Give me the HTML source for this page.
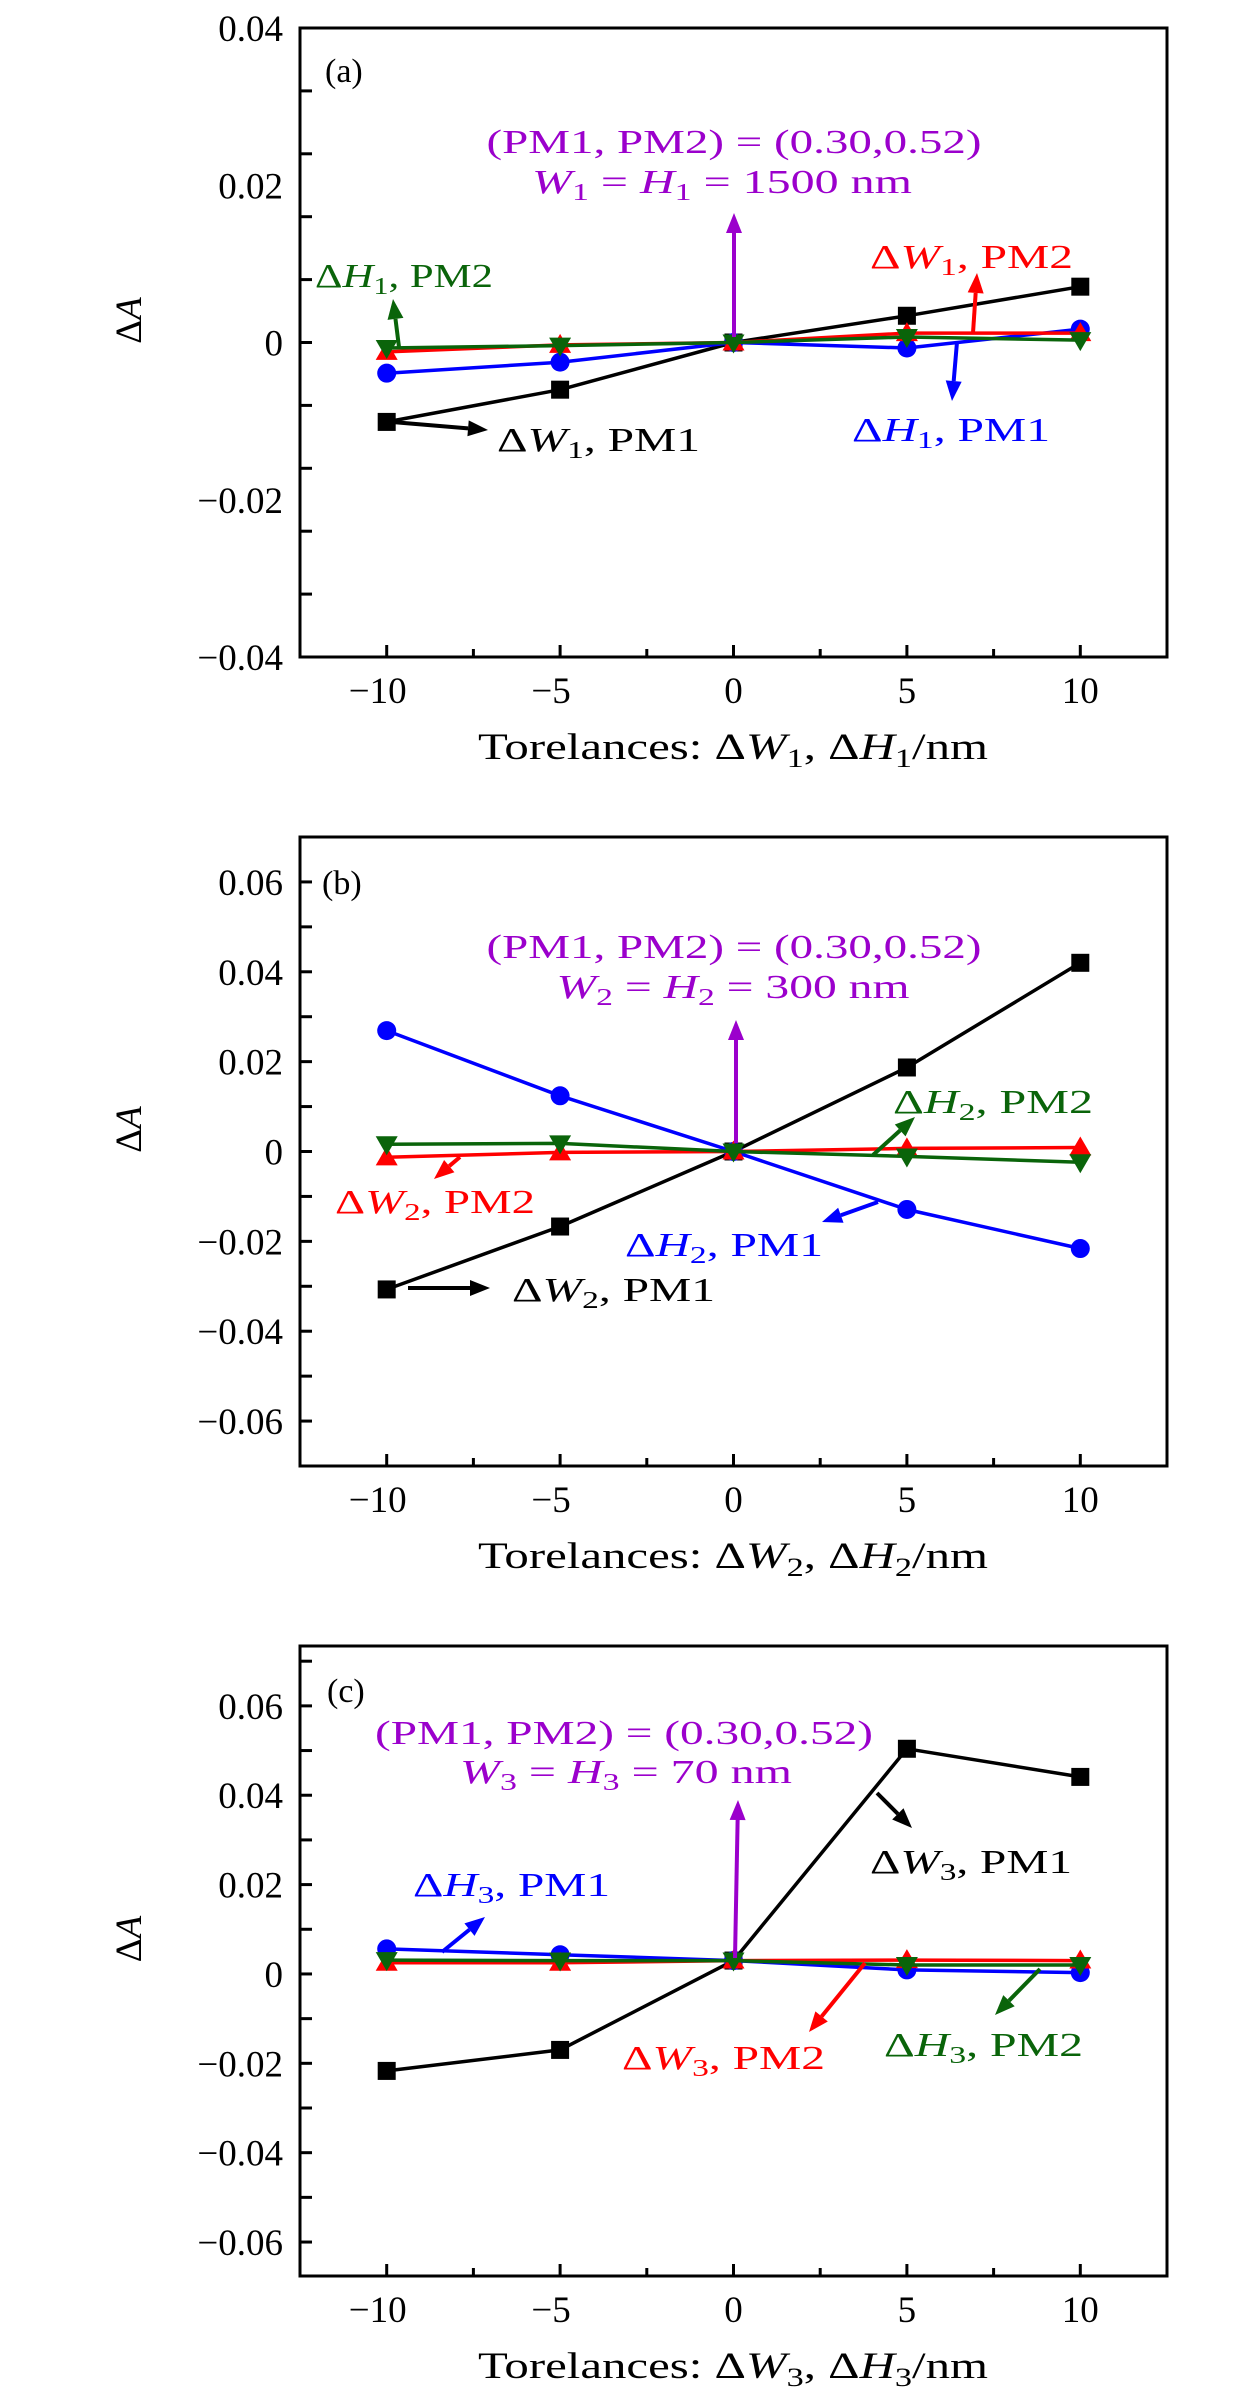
<!DOCTYPE html>
<html>
<head>
<meta charset="utf-8">
<style>
  html,body{margin:0;padding:0;background:#fff;}
  svg{display:block;}
  text{font-family:"Liberation Serif", serif;}
</style>
</head>
<body>
<svg id="fig" xmlns="http://www.w3.org/2000/svg" width="1260" height="2394" viewBox="0 0 1260 2394">
  <rect x="0" y="0" width="1260" height="2394" fill="#fff"/>
  <g id="layer-axes"></g>
  <g id="layer-series"></g>
  <g id="layer-annot">
    <!-- Panel (a) annotations -->
    <text x="325" y="82" font-size="34">(a)</text>
    <text x="734" y="153" font-size="34" text-anchor="middle" fill="#9b00cc" textLength="495" lengthAdjust="spacingAndGlyphs">(PM1, PM2) = (0.30,0.52)</text>
    <text x="722" y="193" font-size="34" text-anchor="middle" fill="#9b00cc" textLength="380" lengthAdjust="spacingAndGlyphs"><tspan font-style="italic">W</tspan><tspan font-size="24" dy="7">1</tspan><tspan dy="-7"> = </tspan><tspan font-style="italic">H</tspan><tspan font-size="24" dy="7">1</tspan><tspan dy="-7"> = 1500 nm</tspan></text>
    <text x="315" y="287" font-size="34" fill="#0a640a" textLength="178" lengthAdjust="spacingAndGlyphs">Δ<tspan font-style="italic">H</tspan><tspan font-size="24" dy="7">1</tspan><tspan dy="-7">, PM2</tspan></text>
    <text x="497" y="451" font-size="34" fill="#000" textLength="203" lengthAdjust="spacingAndGlyphs">Δ<tspan font-style="italic">W</tspan><tspan font-size="24" dy="7">1</tspan><tspan dy="-7">, PM1</tspan></text>
    <text x="870" y="268" font-size="34" fill="#ff0000" textLength="203" lengthAdjust="spacingAndGlyphs">Δ<tspan font-style="italic">W</tspan><tspan font-size="24" dy="7">1</tspan><tspan dy="-7">, PM2</tspan></text>
    <text x="852" y="441" font-size="34" fill="#0000ff" textLength="198" lengthAdjust="spacingAndGlyphs">Δ<tspan font-style="italic">H</tspan><tspan font-size="24" dy="7">1</tspan><tspan dy="-7">, PM1</tspan></text>

    <!-- Panel (b) annotations -->
    <text x="322" y="894" font-size="34">(b)</text>
    <text x="734" y="958" font-size="34" text-anchor="middle" fill="#9b00cc" textLength="495" lengthAdjust="spacingAndGlyphs">(PM1, PM2) = (0.30,0.52)</text>
    <text x="733" y="998" font-size="34" text-anchor="middle" fill="#9b00cc" textLength="353" lengthAdjust="spacingAndGlyphs"><tspan font-style="italic">W</tspan><tspan font-size="24" dy="7">2</tspan><tspan dy="-7"> = </tspan><tspan font-style="italic">H</tspan><tspan font-size="24" dy="7">2</tspan><tspan dy="-7"> = 300 nm</tspan></text>
    <text x="335" y="1213" font-size="34" fill="#ff0000" textLength="200" lengthAdjust="spacingAndGlyphs">Δ<tspan font-style="italic">W</tspan><tspan font-size="24" dy="7">2</tspan><tspan dy="-7">, PM2</tspan></text>
    <text x="512" y="1301" font-size="34" fill="#000" textLength="203" lengthAdjust="spacingAndGlyphs">Δ<tspan font-style="italic">W</tspan><tspan font-size="24" dy="7">2</tspan><tspan dy="-7">, PM1</tspan></text>
    <text x="625" y="1256" font-size="34" fill="#0000ff" textLength="198" lengthAdjust="spacingAndGlyphs">Δ<tspan font-style="italic">H</tspan><tspan font-size="24" dy="7">2</tspan><tspan dy="-7">, PM1</tspan></text>
    <text x="893" y="1113" font-size="34" fill="#0a640a" textLength="200" lengthAdjust="spacingAndGlyphs">Δ<tspan font-style="italic">H</tspan><tspan font-size="24" dy="7">2</tspan><tspan dy="-7">, PM2</tspan></text>

    <!-- Panel (c) annotations -->
    <text x="327" y="1702" font-size="34">(c)</text>
    <text x="624" y="1744" font-size="34" text-anchor="middle" fill="#9b00cc" textLength="498" lengthAdjust="spacingAndGlyphs">(PM1, PM2) = (0.30,0.52)</text>
    <text x="626" y="1783" font-size="34" text-anchor="middle" fill="#9b00cc" textLength="332" lengthAdjust="spacingAndGlyphs"><tspan font-style="italic">W</tspan><tspan font-size="24" dy="7">3</tspan><tspan dy="-7"> = </tspan><tspan font-style="italic">H</tspan><tspan font-size="24" dy="7">3</tspan><tspan dy="-7"> = 70 nm</tspan></text>
    <text x="413" y="1896" font-size="34" fill="#0000ff" textLength="197" lengthAdjust="spacingAndGlyphs">Δ<tspan font-style="italic">H</tspan><tspan font-size="24" dy="7">3</tspan><tspan dy="-7">, PM1</tspan></text>
    <text x="870" y="1873" font-size="34" fill="#000" textLength="202" lengthAdjust="spacingAndGlyphs">Δ<tspan font-style="italic">W</tspan><tspan font-size="24" dy="7">3</tspan><tspan dy="-7">, PM1</tspan></text>
    <text x="622" y="2069" font-size="34" fill="#ff0000" textLength="203" lengthAdjust="spacingAndGlyphs">Δ<tspan font-style="italic">W</tspan><tspan font-size="24" dy="7">3</tspan><tspan dy="-7">, PM2</tspan></text>
    <text x="884" y="2056" font-size="34" fill="#0a640a" textLength="199" lengthAdjust="spacingAndGlyphs">Δ<tspan font-style="italic">H</tspan><tspan font-size="24" dy="7">3</tspan><tspan dy="-7">, PM2</tspan></text>
  </g>
</svg>

<script>
// ---- data ----
const xCats = [-10, -5, 0, 5, 10];
const xTickLabels = ["\u221210", "\u22125", "0", "5", "10"];

// Panel (a)
const aW1PM1 = [-0.0101, -0.0060, 0.0000, 0.0034, 0.0071];
const aH1PM1 = [-0.0039, -0.0025, 0.0000, -0.0007, 0.0017];
const aW1PM2 = [-0.0012, -0.0003, 0.0000, 0.0012, 0.0012];
const aH1PM2 = [-0.0007, -0.0004, 0.0000, 0.0007, 0.0003];
const aYTicks = [-0.04, -0.02, 0, 0.02, 0.04];

// Panel (b)
const bW2PM1 = [-0.0307, -0.0167, 0.0000, 0.0187, 0.0420];
const bH2PM1 = [0.0269, 0.0124, 0.0000, -0.0129, -0.0216];
const bW2PM2 = [-0.0013, -0.0002, 0.0000, 0.0007, 0.0009];
const bH2PM2 = [0.0016, 0.0018, 0.0000, -0.0011, -0.0024];
const bYTicks = [-0.06, -0.04, -0.02, 0, 0.02, 0.04, 0.06];

// Panel (c)
const cW3PM1 = [-0.0217, -0.0170, 0.0030, 0.0504, 0.0441];
const cH3PM1 = [0.0056, 0.0043, 0.0030, 0.0009, 0.0003];
const cW3PM2 = [0.0025, 0.0025, 0.0030, 0.0031, 0.0030];
const cH3PM2 = [0.0031, 0.0030, 0.0030, 0.0020, 0.0020];
const cYTicks = [-0.06, -0.04, -0.02, 0, 0.02, 0.04, 0.06];

// ---- layout ----
const NS = "http://www.w3.org/2000/svg";
const L = 300, R = 1167, XMIN = -12.5, XMAX = 12.5;
const COLORS = {black: "#000000", blue: "#0000ff", red: "#ff0000", green: "#0a640a", purple: "#9b00cc"};
const axesLayer = document.getElementById("layer-axes");
const seriesLayer = document.getElementById("layer-series");
const annotLayer = document.getElementById("layer-annot");

function xScale(v) { return L + (v - XMIN) / (XMAX - XMIN) * (R - L); }
function mk(tag, attrs, parent) {
  const el = document.createElementNS(NS, tag);
  for (const k in attrs) el.setAttribute(k, attrs[k]);
  parent.appendChild(el);
  return el;
}
function fmt(v) {
  if (Math.abs(v) < 1e-9) return "0";
  return (v < 0 ? "\u2212" : "") + Math.abs(v).toFixed(2);
}

function drawPanel(id, top, bottom, ymin, ymax, yTicks, yTickStep, titleSub, series) {
  const yScale = v => bottom - (v - ymin) / (ymax - ymin) * (bottom - top);
  const g = mk("g", {}, axesLayer);
  
  

  // frame
  const frame = mk("rect", {x: L, y: top, width: R - L, height: bottom - top, fill: "none", stroke: "#000", "stroke-width": 3}, g);
  
  

  // y tick marks
  const n0 = Math.ceil(ymin / yTickStep - 1e-6), n1 = Math.floor(ymax / yTickStep + 1e-6);
  for (let n = n0; n <= n1; n++) {
    const y = yScale(n * yTickStep);
    const t = mk("line", {x1: L, x2: L + 12, y1: y, y2: y, stroke: "#000", "stroke-width": 3}, g);
    
    
  }
  // y tick labels
  yTicks.forEach(v => {
    const t = mk("text", {x: 283, y: yScale(v) + 13, "font-size": 37, "text-anchor": "end"}, g);
    t.textContent = fmt(v);
    
    
  });
  // x ticks (major + minor)
  for (let v = -10; v <= 10; v += 2.5) {
    const major = Math.abs(v % 5) < 1e-9;
    const x = xScale(v);
    const t = mk("line", {x1: x, x2: x, y1: bottom, y2: bottom - (major ? 12 : 8), stroke: "#000", "stroke-width": 3}, g);
    
    
  }
  xCats.forEach((v, i) => {
    const t = mk("text", {x: xScale(v) - (v < 0 ? 9 : 0), y: bottom + 46, "font-size": 37, "text-anchor": "middle"}, g);
    t.textContent = xTickLabels[i];
    
    
  });
  // x axis title
  const xt = mk("text", {x: 733, y: bottom + 102, "font-size": 37, "text-anchor": "middle", textLength: 510, lengthAdjust: "spacingAndGlyphs"}, g);
  
  
  xt.innerHTML = 'Torelances: Δ<tspan font-style="italic">W</tspan><tspan font-size="26" dy="8">' + titleSub + '</tspan><tspan dy="-8">, Δ</tspan><tspan font-style="italic">H</tspan><tspan font-size="26" dy="8">' + titleSub + '</tspan><tspan dy="-8">/nm</tspan>';
  // y axis title
  const cy = (top + bottom) / 2 - 22;
  const yt = mk("text", {x: 0, y: 0, "font-size": 37, "text-anchor": "middle", transform: "translate(141," + cy + ") rotate(-90)"}, g);
  
  
  yt.innerHTML = 'Δ<tspan font-style="italic">A</tspan>';

  // series
  series.forEach(s => {
    const sg = mk("g", {}, seriesLayer);
    
    
    const pts = xCats.map((xv, i) => xScale(xv).toFixed(1) + "," + yScale(s.values[i]).toFixed(1)).join(" ");
    const pl = mk("polyline", {points: pts, fill: "none", stroke: s.color, "stroke-width": 3.5, "stroke-linejoin": "round"}, sg);
    
    
    xCats.forEach((xv, i) => {
      const px = xScale(xv), py = yScale(s.values[i]);
      let m;
      if (s.marker === "square") {
        m = mk("rect", {x: px - 9, y: py - 9, width: 18, height: 18, fill: s.color}, sg);
      } else if (s.marker === "circle") {
        m = mk("circle", {cx: px, cy: py, r: 9.5, fill: s.color}, sg);
      } else if (s.marker === "up") {
        m = mk("polygon", {points: (px) + "," + (py - 11) + " " + (px - 11) + "," + (py + 8) + " " + (px + 11) + "," + (py + 8), fill: s.color}, sg);
      } else {
        m = mk("polygon", {points: (px) + "," + (py + 11) + " " + (px - 11) + "," + (py - 8) + " " + (px + 11) + "," + (py - 8), fill: s.color}, sg);
      }
      
      
    });
  });
}

function arrow(x1, y1, x2, y2, color, name) {
  const g = mk("g", {}, annotLayer);
  
  
  const dx = x2 - x1, dy = y2 - y1, len = Math.hypot(dx, dy);
  const ux = dx / len, uy = dy / len, hl = 20, hw = 8;
  const bx = x2 - ux * hl, by = y2 - uy * hl;
  mk("line", {x1: x1, y1: y1, x2: bx, y2: by, stroke: color, "stroke-width": 4}, g);
  mk("polygon", {points: x2 + "," + y2 + " " + (bx - uy * hw) + "," + (by + ux * hw) + " " + (bx + uy * hw) + "," + (by - ux * hw), fill: color}, g);
}

drawPanel("a", 28, 657, -0.04, 0.04, aYTicks, 0.008, "1", [
  {name: "dw1-pm1", values: aW1PM1, color: COLORS.black, marker: "square"},
  {name: "dh1-pm1", values: aH1PM1, color: COLORS.blue, marker: "circle"},
  {name: "dw1-pm2", values: aW1PM2, color: COLORS.red, marker: "up"},
  {name: "dh1-pm2", values: aH1PM2, color: COLORS.green, marker: "down"}
]);
drawPanel("b", 837, 1466, -0.07, 0.07, bYTicks, 0.01, "2", [
  {name: "dw2-pm1", values: bW2PM1, color: COLORS.black, marker: "square"},
  {name: "dh2-pm1", values: bH2PM1, color: COLORS.blue, marker: "circle"},
  {name: "dw2-pm2", values: bW2PM2, color: COLORS.red, marker: "up"},
  {name: "dh2-pm2", values: bH2PM2, color: COLORS.green, marker: "down"}
]);
drawPanel("c", 1646, 2276, -0.0676, 0.0734, cYTicks, 0.01, "3", [
  {name: "dw3-pm1", values: cW3PM1, color: COLORS.black, marker: "square"},
  {name: "dh3-pm1", values: cH3PM1, color: COLORS.blue, marker: "circle"},
  {name: "dw3-pm2", values: cW3PM2, color: COLORS.red, marker: "up"},
  {name: "dh3-pm2", values: cH3PM2, color: COLORS.green, marker: "down"}
]);

// annotation arrows (panel a)
arrow(734, 337, 734, 213, COLORS.purple, "arrow-a-purple");
arrow(399, 347, 393, 299, COLORS.green, "arrow-a-dh1-pm2");
arrow(392, 422, 488, 430, COLORS.black, "arrow-a-dw1-pm1");
arrow(973, 333, 977, 273, COLORS.red, "arrow-a-dw1-pm2");
arrow(957, 342, 952, 401, COLORS.blue, "arrow-a-dh1-pm1");
// panel b
arrow(736, 1143, 736, 1020, COLORS.purple, "arrow-b-purple");
arrow(460, 1157, 434, 1179, COLORS.red, "arrow-b-dw2-pm2");
arrow(408, 1288, 490, 1288, COLORS.black, "arrow-b-dw2-pm1");
arrow(878, 1202, 822, 1222, COLORS.blue, "arrow-b-dh2-pm1");
arrow(873, 1155, 915, 1117, COLORS.green, "arrow-b-dh2-pm2");
// panel c
arrow(735, 1958, 738, 1800, COLORS.purple, "arrow-c-purple");
arrow(442, 1952, 485, 1917, COLORS.blue, "arrow-c-dh3-pm1");
arrow(877, 1793, 912, 1828, COLORS.black, "arrow-c-dw3-pm1");
arrow(865, 1963, 809, 2032, COLORS.red, "arrow-c-dw3-pm2");
arrow(1040, 1969, 995, 2015, COLORS.green, "arrow-c-dh3-pm2");
</script>
</body>
</html>
